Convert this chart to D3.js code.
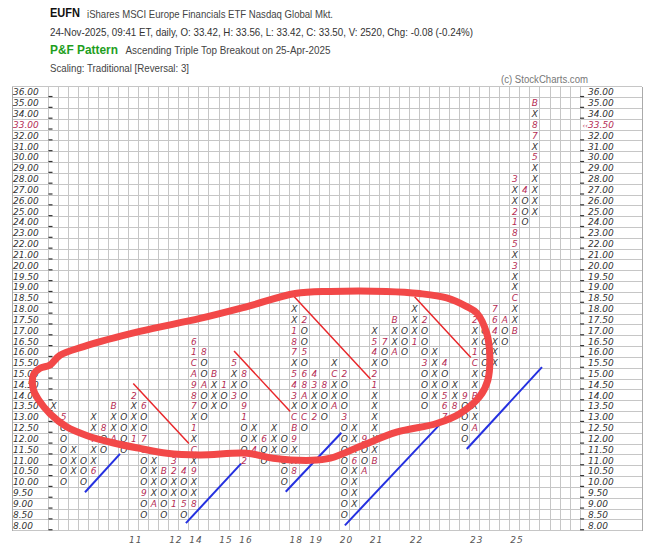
<!DOCTYPE html>
<html><head><meta charset="utf-8">
<script src="https://cdn.jsdelivr.net/npm/d3@7"></script>
<style>body{margin:0;background:#fff}svg{display:block}</style>
</head><body><svg id="c" width="653" height="558"></svg>
<script>
// ---------- data ----------
const priceLevels = [36,35,34,33,32,31,30,29,28,27,26,25,24,23,22,21,20,19.5,19,18.5,18,17.5,17,16.5,16,15.5,15,14.5,14,13.5,13,12.5,12,11.5,11,10.5,10,9.5,9,8.5,8];
const priceLabels = priceLevels.map(p => p.toFixed(2));
const columnTypes = ["X","O","X","O","X","O","X","O","X","O","X","O","X","O","X","O","X","O","X","O","X","O","X","O","X","O","X","O","X","O","X","O","X","O","X","O","X","O","X","O","X","O","X","O","X","O","X","O","X"];
const columnLow  = [13.5,10,10.5,10,10.5,11.5,12,11.5,12,8.5,9,8.5,9,8.5,9,13,13.5,13.5,14,11,11.5,11,11.5,10,10.5,12.5,13,13,13.5,8.5,9,10.5,11,15.5,16,16,16.5,13.5,14,13,13.5,12,12.5,15,15.5,16.5,17,24,25];
const columnHigh = [13.5,13,11.5,11,13,12.5,13.5,13,14,13.5,11,10.5,11,10.5,16.5,16,15,14.5,15.5,15,12.5,12,12.5,12,18,17.5,15,14.5,15.5,15,12.5,12,17,16.5,17.5,17,18,17.5,16,15.5,14.5,14,17.5,17,18,17.5,28,27,35];
// [column, price, month code]
const monthMarks = [[1,13,"5"],[4,10.5,"6"],[4,12,"7"],[5,12.5,"8"],[6,12,"A"],[6,13.5,"B"],[8,12,"1"],[8,14,"2"],[9,13.5,"6"],[9,12,"7"],[9,11.5,"8"],[9,9.5,"9"],[10,9,"A"],[11,10.5,"B"],[12,9,"1"],[12,10.5,"2"],[12,11,"3"],[13,10.5,"4"],[13,9,"5"],[14,9,"8"],[14,10.5,"9"],[14,11.5,"C"],[14,12.5,"1"],[14,13.5,"7"],[14,14,"8"],[14,14.5,"9"],[14,15,"A"],[14,15.5,"C"],[14,16,"1"],[14,16.5,"6"],[15,16,"8"],[15,14.5,"A"],[16,15,"B"],[17,14.5,"1"],[18,14,"3"],[18,15.5,"5"],[19,15,"8"],[19,13.5,"9"],[19,13,"1"],[19,11,"2"],[20,11.5,"4"],[21,12,"6"],[24,10.5,"8"],[24,12,"9"],[24,12.5,"B"],[24,13,"C"],[24,14,"3"],[24,14.5,"4"],[24,15,"5"],[24,16,"7"],[24,16.5,"8"],[24,17,"1"],[25,17.5,"2"],[25,16,"5"],[25,15,"6"],[25,14.5,"8"],[25,14,"A"],[25,13,"C"],[26,13,"2"],[26,14.5,"3"],[26,15,"4"],[27,14.5,"8"],[28,13.5,"A"],[28,15,"C"],[29,15,"2"],[29,13,"3"],[30,11,"6"],[31,12,"9"],[31,10.5,"A"],[32,11,"B"],[32,14.5,"1"],[32,15,"2"],[32,16,"4"],[32,16.5,"5"],[33,16.5,"7"],[34,16,"A"],[34,17.5,"B"],[36,16.5,"1"],[37,17.5,"2"],[37,15.5,"3"],[39,15.5,"4"],[39,14,"5"],[39,13.5,"6"],[39,13,"7"],[40,13.5,"8"],[41,14,"9"],[42,12.5,"A"],[42,14,"B"],[42,15.5,"C"],[42,16,"1"],[42,17.5,"2"],[44,17,"4"],[44,17.5,"6"],[44,18,"7"],[45,17.5,"A"],[46,17,"B"],[46,18.5,"C"],[46,20,"3"],[46,22,"5"],[46,23,"8"],[46,24,"1"],[46,25,"2"],[46,28,"3"],[47,27,"4"],[48,30,"5"],[48,32,"7"],[48,33,"8"],[48,35,"B"]];
const yearLabels = [[8,"11"],[12,"12"],[14,"14"],[17,"15"],[19,"16"],[24,"18"],[26,"19"],[29,"20"],[32,"21"],[36,"22"],[42,"23"],[46,"25"]];
const lastPrice = 33.5, lastPriceLevel = 33;
// trend lines in grid units [column, row]
const resistanceLines = [[[8.45,27.4],[14.0,32.95]],[[18.5,24.4],[24.1,30.0]],[[24.5,19.4],[32.1,27.0]],[[36.5,19.4],[42.1,25.0]]];
const supportLines = [[[3.64,37.45],[7.13,33.9]],[[13.7,40.3],[19.2,34.8]],[[23.65,37.4],[29.2,31.95]],[[29.55,40.5],[38.9,31.3]],[[41.7,33.45],[49.2,25.9]]];
// hand-drawn annotation loop, grid units
const annotationLoop = [[15.1,21.4],[9.1,22.6],[3.5,24.0],[1.15,24.8],[0.15,25.7],[-0.85,26.0],[-1.5,26.6],[-1.5,28.0],[-1.0,28.9],[0.15,30.2],[1.8,31.4],[3.8,32.2],[6.5,32.9],[9.1,33.4],[11.8,33.85],[15.1,34.0],[19.8,33.85],[22.4,34.3],[26.2,34.5],[28.1,34.3],[31.1,33.2],[34.7,31.9],[38.7,31.1],[41.0,30.2],[43.0,28.6],[43.8,27.1],[44.0,24.9],[43.7,22.8],[42.7,20.9],[41.7,20.3],[39.7,19.5],[37.0,19.1],[33.7,18.9],[28.1,18.9],[24.6,19.1],[19.8,20.3]];

// ---------- layout ----------
const NCOL = 53;
const gridL = 48.5, gridR = 48.5 + NCOL * 10.03, gridT = 86.7, gridB = 86.7 + 41 * 10.83;
const frameL = 12, frameR = 642;
const svg = d3.select("#c");
const x = d3.scaleBand().domain(d3.range(NCOL)).range([gridL, gridR]);
const y = d3.scaleBand().domain(priceLevels).range([gridT, gridB]);
const u = d3.scaleLinear().domain([0, NCOL]).range([gridL, gridR]);
const v = d3.scaleLinear().domain([0, priceLevels.length]).range([gridT, gridB]);
const mono = "'DejaVu Sans', Verdana, sans-serif";
const red = "#b52c54";

// header
const hdr = svg.append("g").attr("font-family", "'Liberation Sans', Arial, sans-serif");
hdr.append("text").attr("x", 50).attr("y", 17).attr("font-weight", "bold").attr("font-size", 13).attr("fill", "#111")
  .attr("textLength", 30).attr("lengthAdjust", "spacingAndGlyphs").text("EUFN");
hdr.append("text").attr("x", 87).attr("y", 17.5).attr("font-size", 10.5).attr("fill", "#444")
  .attr("textLength", 246).attr("lengthAdjust", "spacingAndGlyphs").text("iShares MSCI Europe Financials ETF  Nasdaq Global Mkt.");
hdr.append("text").attr("x", 50).attr("y", 35.5).attr("font-size", 10.5).attr("fill", "#333")
  .attr("textLength", 423).attr("lengthAdjust", "spacingAndGlyphs").text("24-Nov-2025, 09:41 ET, daily, O: 33.42, H: 33.56, L: 33.42, C: 33.50, V: 2520, Chg: -0.08 (-0.24%)");
hdr.append("text").attr("x", 50).attr("y", 54).attr("font-weight", "bold").attr("font-size", 12.5).attr("fill", "#1e9e1e")
  .attr("textLength", 68).attr("lengthAdjust", "spacingAndGlyphs").text("P&F Pattern");
hdr.append("text").attr("x", 125.5).attr("y", 54).attr("font-size", 10.5).attr("fill", "#444")
  .attr("textLength", 205).attr("lengthAdjust", "spacingAndGlyphs").text("Ascending Triple Top Breakout on 25-Apr-2025");
hdr.append("text").attr("x", 50).attr("y", 72).attr("font-size", 10.5).attr("fill", "#444")
  .attr("textLength", 139).attr("lengthAdjust", "spacingAndGlyphs").text("Scaling: Traditional [Reversal: 3]");
hdr.append("text").attr("x", 501).attr("y", 83).attr("font-size", 10).attr("fill", "#777")
  .attr("textLength", 87).attr("lengthAdjust", "spacingAndGlyphs").text("(c) StockCharts.com");

// grid
const g = svg.append("g").attr("stroke", "#c6c6c6").attr("stroke-width", 1).attr("shape-rendering", "crispEdges");
g.selectAll(".h").data(d3.range(priceLevels.length + 1)).join("line")
  .attr("x1", frameL).attr("x2", frameR).attr("y1", i => v(i)).attr("y2", i => v(i));
g.selectAll(".v").data(d3.range(NCOL + 1)).join("line")
  .attr("y1", gridT).attr("y2", gridB).attr("x1", i => u(i)).attr("x2", i => u(i));
g.append("line").attr("x1", frameL).attr("x2", frameL).attr("y1", gridT).attr("y2", gridB).attr("stroke", "#aaa");
g.append("line").attr("x1", frameR).attr("x2", frameR).attr("y1", gridT).attr("y2", gridB).attr("stroke", "#aaa");

// axis ticks + labels
const ax = svg.append("g").attr("font-family", mono).attr("font-style", "oblique").attr("font-size", 9);
priceLevels.forEach((p, i) => {
  const yb = y(p) + y.bandwidth();
  const yt = y(p) + y.bandwidth() / 2 + 3.3;
  const isCur = p === lastPriceLevel;
  ax.append("line").attr("x1", gridL).attr("x2", gridL + 4).attr("y1", yb - 1).attr("y2", yb - 1).attr("stroke", "#333").attr("stroke-width", 1.2);
  ax.append("text").attr("x", 13).attr("y", yt).attr("fill", isCur ? red : "#333").text(priceLabels[i]);
  if (isCur) {
    const t = ax.append("text").attr("x", 582.5).attr("y", yt).attr("fill", red);
    t.append("tspan").attr("font-size", 7).text("‹‹");
    t.append("tspan").text(lastPrice.toFixed(2));
  } else {
    ax.append("line").attr("x1", gridR).attr("x2", gridR + 4).attr("y1", yb - 1).attr("y2", yb - 1).attr("stroke", "#333").attr("stroke-width", 1.2);
    ax.append("text").attr("x", 588).attr("y", yt).attr("fill", "#333").text(priceLabels[i]);
  }
});
ax.selectAll(".yr").data(yearLabels).join("text")
  .attr("x", d => x(d[0]) + x.bandwidth() / 2 + 2).attr("y", 543).attr("text-anchor", "middle")
  .attr("fill", "#555").attr("letter-spacing", 1).text(d => d[1]);

// X / O boxes
const markMap = new Map(monthMarks.map(m => [m[0] + "|" + m[1], m[2]]));
const cells = [];
columnTypes.forEach((t, c) => {
  priceLevels.filter(p => p >= columnLow[c] && p <= columnHigh[c]).forEach(p => {
    const m = markMap.get(c + "|" + p);
    cells.push({c, p, txt: m || t, month: !!m});
  });
});
svg.append("g").attr("font-family", mono).attr("font-style", "oblique").attr("font-size", 9).attr("text-anchor", "middle")
  .selectAll("text").data(cells).join("text")
  .attr("x", d => x(d.c) + x.bandwidth() / 2)
  .attr("y", d => y(d.p) + y.bandwidth() / 2 + 3.3)
  .attr("fill", d => d.month ? red : "#333")
  .text(d => d.txt);

// trend lines
const ln = d3.line().x(d => u(d[0])).y(d => v(d[1]));
svg.append("g").selectAll("path").data(resistanceLines).join("path")
  .attr("d", ln).attr("stroke", "#e8262a").attr("stroke-width", 1.5).attr("fill", "none");
svg.append("g").selectAll("path").data(supportLines).join("path")
  .attr("d", ln).attr("stroke", "#2430e0").attr("stroke-width", 2).attr("fill", "none");

// annotation loop
svg.append("path").datum(annotationLoop)
  .attr("d", d3.line().x(d => u(d[0])).y(d => v(d[1])).curve(d3.curveCatmullRomClosed.alpha(0.5)))
  .attr("fill", "none").attr("stroke", "#f24848").attr("stroke-width", 7).attr("stroke-linejoin", "round").attr("stroke-linecap", "round");
</script></body></html>
